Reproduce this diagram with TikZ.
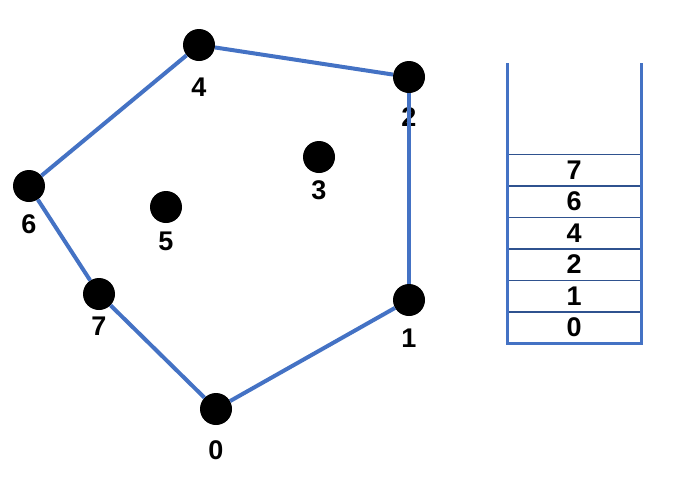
\documentclass[tikz,border=0pt]{standalone}
\usepackage{fontspec}
\setmainfont{Liberation Sans}
\usepackage{xcolor}
\usetikzlibrary{positioning}

\definecolor{hullblue}{HTML}{4472C4}
\definecolor{celledge}{HTML}{2F528F}

\begin{document}
\begin{tikzpicture}[
    x=1pt, y=-1pt,
    every node/.style={font=\fontsize{27}{30}\selectfont\bfseries},
    point/.style={
        circle,
        fill=black,
        minimum size=32pt,
        inner sep=0pt
    },
    cell/.style={
        rectangle,
        minimum width=134pt,
        minimum height=31.5pt,
        inner sep=0pt,
        outer sep=0pt,
        text centered,
        draw=celledge,
        line width=1.5pt
    },
    hull/.style={line width=4pt, draw=hullblue},
    wall/.style={line width=3pt, draw=hullblue}
]

\useasboundingbox (0,0) rectangle (677,483);

% points
\node (p0) [point] at (216,409) {};
\node (p1) [point] at (409,300) {};
\node (p2) [point] at (409,77)  {};
\node (p3) [point] at (319,157) {};
\node (p4) [point] at (199,45)  {};
\node (p5) [point] at (166,207) {};
\node (p6) [point] at (29,186)  {};
\node (p7) [point] at (99,294)  {};

% point labels
\node (l0) at (216,450) {0};
\node (l1) at (409,338) {1};
\node (l2) at (409,117) {2};
\node (l3) at (319,190) {3};
\node (l4) at (199,87)  {4};
\node (l5) at (166,241) {5};
\node (l6) at (29,224)  {6};
\node (l7) at (99,326)  {7};

% hull
\draw [hull] (p0) -- (p1);
\draw [hull] (p1) -- (p2);
\draw [hull] (p2) -- (p4);
\draw [hull] (p4) -- (p6);
\draw [hull] (p6) -- (p7);
\draw [hull] (p7) -- (p0);

% stack
\node (s7) [cell] at (574,170) {7};
\node (s6) [cell, below=0pt of s7] {6};
\node (s4) [cell, below=0pt of s6] {4};
\node (s2) [cell, below=0pt of s4] {2};
\node (s1) [cell, below=0pt of s2] {1};
\node (s0) [cell, below=0pt of s1] {0};

\coordinate (topL) at (507,63);
\coordinate (topR) at (641,63);
\draw [wall] (topL) |- (s0.south) -| (topR);

\end{tikzpicture}
\end{document}
